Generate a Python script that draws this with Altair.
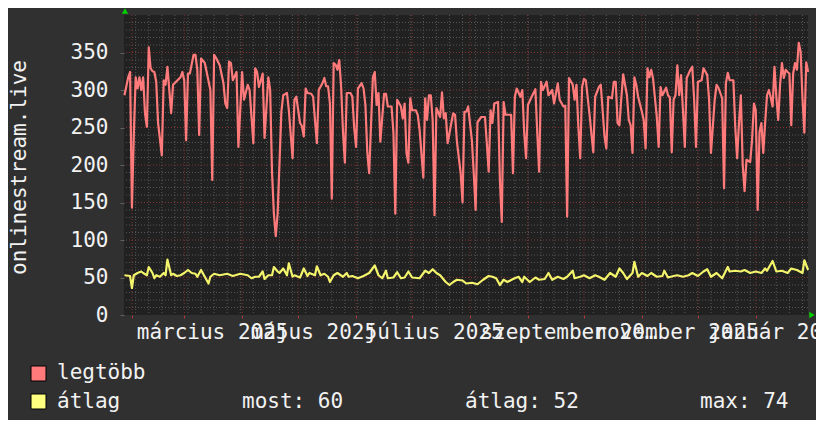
import altair as alt
import numpy as np
import pandas as pd

# ---------------- data ----------------
SERIES_START = "2025-01-28"   # day 0 of the day offsets below

red_day = [0, 2, 3, 4, 5, 6, 7, 8, 9, 10, 11, 12, 13, 14, 15, 16, 17, 18, 20, 21, 22, 23, 25, 26, 30, 31, 32, 33, 34, 35,
           37, 38, 39, 40, 41, 43, 46, 47, 48, 49, 51, 53, 54, 55, 56, 57, 58, 60, 61, 63, 64, 66, 67, 69, 70, 71, 72, 74, 75, 77,
           78, 79, 80, 81, 82, 83, 84, 85, 87, 88, 90, 91, 92, 94, 95, 96, 97, 98, 100, 101, 103, 104, 106, 107, 108, 109, 110, 111, 112, 113,
           114, 115, 116, 117, 118, 119, 121, 122, 123, 124, 125, 127, 128, 129, 130, 131, 133, 134, 135, 136, 137, 139, 140, 141, 143, 144, 145, 146, 148, 149,
           150, 151, 152, 153, 154, 156, 157, 158, 160, 161, 162, 163, 164, 165, 166, 167, 168, 169, 170, 171, 172, 173, 175, 176, 177, 178, 179, 180, 181, 182,
           183, 184, 186, 187, 188, 189, 191, 193, 194, 195, 196, 197, 198, 200, 201, 202, 203, 204, 205, 207, 208, 209, 210, 212, 213, 214, 215, 216, 218, 220,
           221, 222, 223, 224, 226, 227, 229, 230, 232, 233, 235, 236, 237, 238, 240, 241, 242, 243, 244, 245, 246, 247, 249, 251, 252, 254, 255, 256, 257, 258,
           259, 261, 262, 263, 264, 265, 266, 267, 269, 270, 271, 272, 273, 274, 275, 277, 278, 279, 280, 281, 282, 283, 285, 286, 287, 288, 290, 291, 292, 293,
           294, 295, 296, 297, 298, 299, 300, 301, 303, 304, 305, 306, 307, 309, 310, 312, 313, 314, 316, 317, 318, 320, 321, 322, 323, 324, 326, 327, 328, 329,
           330, 331, 332, 333, 335, 336, 337, 338, 339, 340, 341, 342, 343, 344, 345, 346, 347, 348, 349, 350, 351, 352, 353, 354, 355, 356, 357, 358, 359, 360,
           361, 362, 363, 364, 365, 366]
red_val = [293, 317, 324, 143, 240, 317, 302, 317, 300, 317, 269, 251, 357, 329, 325, 324, 311, 256, 213, 313, 307, 331, 269, 307, 317, 324, 313, 233, 322, 322,
           347, 347, 327, 240, 342, 336, 300, 180, 347, 343, 333, 309, 282, 276, 338, 336, 313, 324, 224, 324, 287, 307, 300, 229, 329, 324, 304, 322, 236, 317,
           300, 190, 135, 105, 135, 203, 271, 293, 296, 273, 209, 287, 291, 256, 252, 238, 302, 296, 295, 291, 229, 300, 309, 316, 305, 305, 282, 155, 336, 334,
           327, 340, 304, 244, 203, 296, 296, 291, 249, 224, 302, 309, 302, 280, 217, 189, 317, 324, 280, 296, 231, 295, 295, 278, 278, 243, 135, 287, 278, 262,
           282, 216, 203, 289, 273, 273, 267, 247, 183, 289, 260, 293, 293, 260, 133, 276, 270, 264, 297, 262, 269, 229, 256, 269, 267, 231, 210, 189, 150, 271,
           271, 278, 233, 189, 140, 257, 264, 264, 229, 191, 273, 256, 282, 284, 180, 124, 284, 267, 267, 267, 189, 291, 302, 291, 300, 244, 209, 280, 291, 301,
           243, 191, 311, 300, 311, 293, 300, 282, 309, 287, 278, 279, 131, 316, 307, 287, 307, 251, 209, 304, 315, 313, 267, 217, 291, 304, 307, 273, 238, 222,
           291, 289, 311, 311, 256, 253, 289, 321, 293, 260, 253, 216, 317, 307, 291, 271, 260, 222, 329, 317, 327, 315, 264, 224, 304, 293, 303, 293, 290, 217,
           287, 293, 333, 293, 320, 273, 224, 316, 327, 331, 287, 224, 311, 313, 329, 320, 287, 216, 287, 307, 303, 289, 169, 309, 323, 313, 313, 251, 209, 256,
           293, 200, 165, 207, 204, 233, 282, 273, 140, 244, 256, 216, 256, 293, 300, 290, 278, 331, 291, 260, 307, 336, 316, 327, 324, 322, 253, 322, 336, 327,
           363, 351, 289, 243, 337, 324]

yel_day = [0, 3, 4, 5, 7, 9, 10, 12, 13, 15, 16, 17, 19, 21, 22, 23, 25, 26, 28, 30, 32, 34, 36, 38, 39, 41, 43, 45, 46, 48,
           51, 55, 58, 62, 66, 68, 70, 72, 74, 75, 77, 79, 80, 82, 83, 85, 87, 88, 90, 91, 94, 96, 98, 99, 102, 103, 105, 107, 109, 110,
           112, 114, 117, 119, 120, 122, 125, 128, 131, 134, 136, 138, 140, 141, 144, 146, 148, 150, 152, 154, 158, 161, 163, 165, 167, 169, 172, 174, 176, 178,
           181, 183, 186, 189, 192, 195, 197, 199, 201, 203, 205, 208, 211, 213, 214, 217, 220, 222, 225, 227, 229, 232, 235, 237, 240, 241, 244, 246, 249, 252,
           254, 257, 260, 263, 265, 267, 269, 272, 273, 275, 277, 280, 282, 285, 288, 289, 291, 294, 296, 299, 302, 304, 307, 310, 312, 314, 317, 320, 323, 324,
           327, 330, 332, 335, 338, 341, 343, 344, 347, 349, 352, 355, 357, 360, 363, 364, 366]
yel_val = [53, 52, 36, 53, 56, 58, 56, 53, 64, 56, 49, 53, 51, 56, 53, 74, 53, 55, 52, 53, 56, 60, 56, 55, 51, 60, 51, 42, 51, 55,
           53, 55, 52, 55, 53, 49, 51, 51, 58, 48, 53, 53, 64, 58, 56, 62, 53, 69, 51, 53, 50, 62, 52, 56, 53, 65, 53, 55, 51, 44,
           53, 56, 51, 56, 51, 52, 49, 52, 56, 66, 53, 49, 59, 49, 50, 57, 49, 50, 58, 50, 49, 59, 56, 61, 56, 53, 44, 40, 44, 47,
           46, 42, 43, 41, 47, 52, 51, 49, 40, 47, 44, 48, 51, 44, 51, 44, 50, 47, 48, 56, 47, 51, 48, 51, 59, 49, 51, 53, 49, 53,
           51, 47, 56, 51, 62, 56, 48, 56, 71, 51, 56, 52, 56, 51, 52, 59, 50, 52, 53, 51, 53, 56, 52, 58, 61, 51, 56, 49, 64, 58,
           59, 58, 60, 56, 58, 56, 62, 59, 72, 58, 59, 56, 62, 60, 56, 73, 60]

series_names = ["legtöbb", "átlag"]
stat_labels = ["most: 60", "átlag: 52", "max: 74"]
y_tick_values = [0, 50, 100, 150, 200, 250, 300, 350]
month_names = ["január", "február", "március", "április", "május", "június", "július",
               "augusztus", "szeptember", "október", "november", "december"]
y_title = "onlinestream.live"

# ---------------- helpers ----------------
DAY_MS = 86400000


def ms(x):
    return int((pd.Timestamp(x) - pd.Timestamp("1970-01-01")) / pd.Timedelta(milliseconds=1))


base = ms(SERIES_START)
x_start = ms("2025-01-27 18:00")
x_end = ms("2026-01-28 22:48")

red = pd.DataFrame({"t": base + np.array(red_day, dtype=np.int64) * DAY_MS, "v": red_val})
yel = pd.DataFrame({"t": base + np.array(yel_day, dtype=np.int64) * DAY_MS, "v": yel_val})

month_ticks = [ms(d) for d in pd.date_range("2025-02-01", "2026-01-01", freq="MS")]
week_ticks = [ms(d) for d in pd.date_range("2025-02-03", "2026-01-26", freq="7D")]
minor_y = [v for v in range(10, 400, 10) if v % 50]
major_y = list(range(50, 400, 50))

FONT = "DejaVu Sans Mono"
FS = 21
TXT = "#f2f2f2"
RED = "#ff7b7b"
YEL = "#f4f46c"
GRID_MINOR = "#565656"
GRID_MAJOR = "#823434"

xs = alt.Scale(domain=[x_start, x_end], nice=False)
ys = alt.Scale(domain=[0, 400], nice=False)

names_js = "[" + ",".join("'" + m + "'" for m in month_names) + "]"
label_expr = ("utcmonth(datum.value) % 2 == 0 ? " + names_js +
              "[utcmonth(datum.value)] + ' ' + utcyear(datum.value) : ''")

x_axis = alt.Axis(values=month_ticks, labelExpr=label_expr, labelAlign="left", labelOffset=-48,
                  labelOverlap=False, labelFlush=False, labelBound=False, labelBaseline="alphabetic",
                  labelPadding=20, tickSize=3, tickColor="#b03a3a", domain=False, grid=False, title=None,
                  labelFont=FONT, labelFontSize=FS, labelColor=TXT)
y_axis = alt.Axis(values=y_tick_values, labelPadding=12, tickSize=4, tickColor="#606060", domain=False,
                  grid=False, labelFont=FONT, labelFontSize=FS, labelColor=TXT, labelBaseline="middle",
                  title=y_title, titleFont=FONT, titleFontSize=FS, titleColor=TXT, titleFontWeight="normal",
                  titleAngle=270, titleX=-99, titleY=152, titleAlign="center", titleBaseline="alphabetic")

X = alt.X("t:T", scale=xs, axis=x_axis)
Y = alt.Y("v:Q", scale=ys, axis=y_axis)

dash = [1, 2]

vminor = alt.Chart(pd.DataFrame({"t": week_ticks})).mark_rule(
    color=GRID_MINOR, strokeDash=dash, strokeWidth=1).encode(x=X)
vmajor = alt.Chart(pd.DataFrame({"t": month_ticks})).mark_rule(
    color=GRID_MAJOR, strokeDash=dash, strokeWidth=1).encode(x=X)
hminor = alt.Chart(pd.DataFrame({"v": minor_y})).mark_rule(
    color=GRID_MINOR, strokeDash=dash, strokeWidth=1).encode(y=Y)
hmajor = alt.Chart(pd.DataFrame({"v": major_y})).mark_rule(
    color=GRID_MAJOR, strokeDash=dash, strokeWidth=1).encode(y=Y)

red_line = alt.Chart(red).mark_line(color=RED, strokeWidth=2.2, strokeJoin="round").encode(x=X, y=Y)
yel_line = alt.Chart(yel).mark_line(color=YEL, strokeWidth=2.2, strokeJoin="round").encode(x=X, y=Y)

one = alt.Data(values=[{}])
arrow_y = alt.Chart(one).mark_point(shape="triangle-up", filled=True, size=40, color="#00d000", opacity=1).encode(
    x=alt.value(1), y=alt.value(-4))
arrow_x = alt.Chart(one).mark_point(shape="triangle-right", filled=True, size=40, color="#00d000", opacity=1).encode(
    x=alt.value(688), y=alt.value(300))

sq_red = alt.Chart(one).mark_square(size=225, color=RED, stroke="#000000", strokeWidth=1, opacity=1).encode(
    x=alt.value(-85.5), y=alt.value(358.5))
sq_yel = alt.Chart(one).mark_square(size=225, color="#ffff80", stroke="#000000", strokeWidth=1, opacity=1).encode(
    x=alt.value(-85.5), y=alt.value(386.5))


def txt(s, x, y):
    return alt.Chart(one).mark_text(text=s, align="left", baseline="alphabetic", font=FONT, fontSize=FS,
                                    color=TXT).encode(x=alt.value(x), y=alt.value(y))


legend = [txt(series_names[0], -67, 364), txt(series_names[1], -67, 393),
          txt(stat_labels[0], 118, 393), txt(stat_labels[1], 341, 393), txt(stat_labels[2], 576, 393)]

chart = alt.layer(vminor, hminor, vmajor, hmajor, red_line, yel_line, arrow_y, arrow_x, sq_red, sq_yel,
                  *legend).properties(
    width=684, height=300,
    padding={"left": 116, "top": 7, "right": 8, "bottom": 105},
    autosize=alt.AutoSizeParams(type="none"),
    background="#303030",
).configure_view(fill="#212121", stroke=None)

chart.save("out.html", embed_options={"renderer": "svg", "actions": False})
